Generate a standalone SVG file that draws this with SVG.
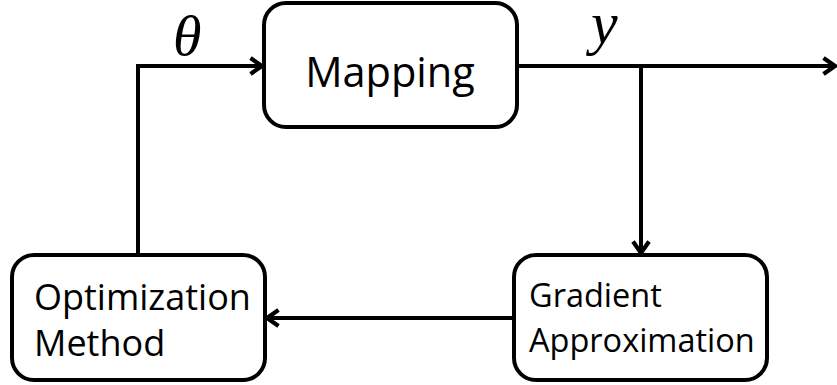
<svg xmlns="http://www.w3.org/2000/svg" width="837" height="385" viewBox="0 0 837 385">
<style>
.box{fill:#fff;stroke:#000;stroke-width:4}
.ln{fill:none;stroke:#000;stroke-width:4}
.t{font-family:"Open Sans","Liberation Sans",sans-serif;fill:#000}
.m{font-family:"Liberation Serif","DejaVu Serif",serif;font-style:italic;fill:#000}
</style>
<defs>
<marker id="ah" markerUnits="userSpaceOnUse" markerWidth="20" markerHeight="20" viewBox="0 0 20 20" refX="17" refY="10" orient="auto">
<path d="M5.5,2 L17,10 L5.5,18" fill="none" stroke="#000" stroke-width="4.2" stroke-linejoin="miter"/>
</marker>
</defs>
<rect width="837" height="385" fill="#fff"/>
<g id="connectors">
<path class="ln" d="M138,255 V66 H262" marker-end="url(#ah)"/>
<path class="ln" d="M517,66 H835" marker-end="url(#ah)"/>
<path class="ln" d="M641,66 V253" marker-end="url(#ah)"/>
<path class="ln" d="M514,318 H267" marker-end="url(#ah)"/>
</g>
<g id="mapping">
<rect class="box" x="264" y="3" width="253" height="124" rx="22"/>
<text class="t" x="390" y="87" font-size="41.5" text-anchor="middle">Mapping</text>
</g>
<g id="optimization">
<rect class="box" x="12" y="255" width="253" height="125" rx="22"/>
<text class="t" x="34" y="310" font-size="36">Optimization</text>
<text class="t" x="34" y="356" font-size="36">Method</text>
</g>
<g id="gradient">
<rect class="box" x="514" y="255" width="253" height="125" rx="22"/>
<text class="t" x="529" y="307" font-size="32.5">Gradient</text>
<text class="t" x="529" y="352" font-size="32.5">Approximation</text>
</g>
<g id="labels">
<text class="m" x="173" y="55" font-size="58">θ</text>
<text class="m" x="591" y="43" font-size="60">y</text>
</g>
</svg>
